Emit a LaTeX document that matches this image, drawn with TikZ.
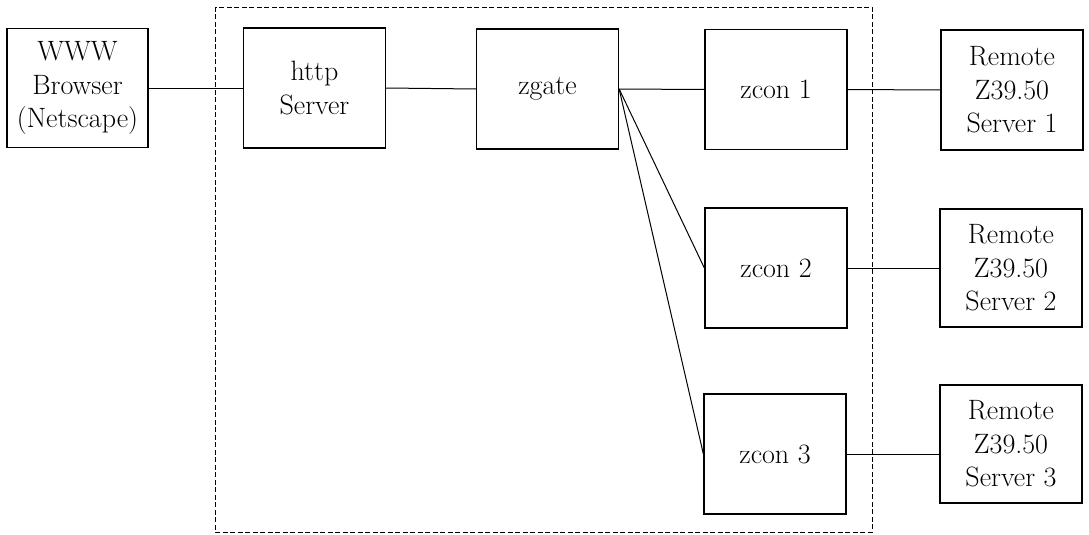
\documentclass[tikz,border=0pt]{standalone}
\usepackage{fontspec}
\begin{document}
\begin{tikzpicture}[x=1pt,y=-1pt,
  blk/.style={draw,line width=1.3pt,minimum width=142pt,minimum height=120pt,inner sep=0pt,align=center,font=\fontsize{28}{33.5}\selectfont},
  conn/.style={line width=1pt},
  grp/.style={line width=0.9pt,dash pattern=on 5pt off 2.5pt}]
\useasboundingbox (0,0) rectangle (1089,535);
\draw[grp] (215,7) rectangle (872,532);
\node[blk,minimum width=141pt,minimum height=119pt] (www) at (77.5,88) {WWW\\Browser\\(Netscape)};
\node[blk] (http) at (314.5,88) {http\\Server};
\node[blk] (zgate) at (547.5,89) {zgate};
\node[blk] (zc1) at (776,89.5) {zcon 1};
\node[blk] (zc2) at (776,268) {zcon 2};
\node[blk] (zc3) at (775,454) {zcon 3};
\node[blk] (r1) at (1012,90) {Remote\\Z39.50\\Server 1};
\node[blk,minimum height=118pt] (r2) at (1011,268) {Remote\\Z39.50\\Server 2};
\node[blk,minimum height=118pt] (r3) at (1011,444) {Remote\\Z39.50\\Server 3};
\draw[conn] (www.east) -- (http.west);
\draw[conn] (http.east) -- (zgate.west);
\draw[conn] (zgate.east) -- (zc1.west);
\draw[conn] (zgate.east) -- (zc2.west);
\draw[conn] (zgate.east) -- (zc3.west);
\draw[conn] (zc1.east) -- (r1.west);
\draw[conn] (zc2.east) -- (r2.west);
\draw[conn] (zc3.east) -- (zc3.east -| r3.west);
\end{tikzpicture}
\end{document}
